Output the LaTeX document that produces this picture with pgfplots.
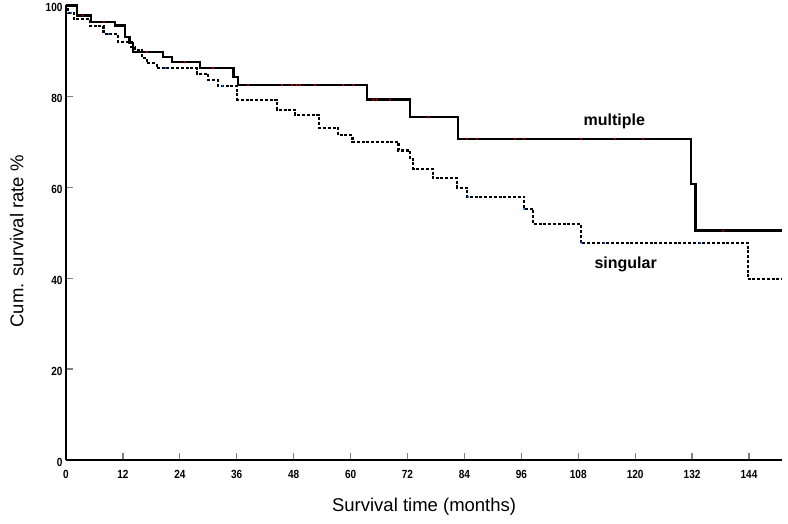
\documentclass[border=0pt]{standalone}
\usepackage{pgfplots}
\pgfplotsset{compat=1.18}
\usepackage{fontspec}
\setmainfont{Liberation Sans}
\newfontfamily\tickfont[FakeStretch=0.85]{Liberation Sans}
\begin{document}
\begin{tikzpicture}
\path[use as bounding box] (0pt,0pt) rectangle (788pt,524pt);
\begin{axis}[
  at={(66pt,64pt)}, anchor=south west,
  scale only axis, width=716.2pt, height=454.5pt,
  xmin=0, xmax=151, ymin=0, ymax=100,
  axis x line*=bottom, axis y line*=left,
  axis line style={-, line width=2.4pt, black},
  xtick={0,12,...,144}, ytick={0,20,...,100},
  xtick align=inside, ytick align=inside,
  major tick length=7pt,
  xtick style={draw=black!50, line width=1.3pt},
  ytick style={draw=black!50, line width=1.3pt},
  /pgf/number format/assume math mode=true,
  ticklabel style={font=\tickfont\bfseries\fontsize{11.8}{12}\selectfont},
  xticklabel style={anchor=base, yshift=-18.3pt},
  yticklabel style={anchor=east, yshift=-2pt},
  xlabel={Survival time (months)},
  ylabel={Cum. survival rate \%},
  label style={font=\fontsize{18.5}{21}\selectfont},
  xlabel style={at={(axis description cs:0.5,-0.1138)}, anchor=base},
  ylabel style={at={(axis description cs:-0.0596,0.481)}, anchor=base},
  clip=false,
]
% multiple (solid)
\addplot[const plot, black, line width=2.2pt] coordinates {
(0,100) (2.4,97.8) (5.2,96.4) (10.3,95.6) (12.4,93.0) (13.4,91.8) (14.2,89.8)
(20.4,88.7) (22.3,87.5) (28.3,86.2) (35.3,84.2) (36.3,82.5) (63.4,79.3)
(72.5,75.4) (82.6,70.7) (131.8,60.7) (132.7,50.5) (151,50.5)
};
% singular (dashed)
\addplot[const plot, black, line width=2.1pt, dash pattern=on 3pt off 1.8pt] coordinates {
(0,100) (0.5,98.4) (1.7,97.0) (5.1,95.5) (7.9,93.7) (11.0,92.0) (13.8,90.9)
(14.6,90.2) (16.0,88.4) (17.0,87.3) (19.1,86.2) (27.6,84.9) (30.0,83.6)
(32.1,82.3) (36.1,79.3) (44.4,77.1) (48.3,75.9) (53.4,73.1) (57.4,71.5)
(60.4,70.0) (70.1,68.1) (72.5,66.2) (73.2,64.1) (77.3,62.0) (82.5,59.9)
(84.6,57.9) (96.6,55.2) (98.5,51.9) (108.5,47.8) (143.7,39.8) (151,39.8)
};
% censor marks
\addplot[only marks, mark=*, mark size=0.8pt, color=red!80!black] coordinates {
(3.5,97.8) (8,96.4) (17,89.8) (25,87.5) (31,86.2) (38.4,82.5) (45.5,82.5)
(47.6,82.5) (48.6,82.5) (49.3,82.5) (52.5,82.5) (58.5,82.5) (60.6,82.5)
(64.8,79.3) (65.5,79.3) (68.3,79.3) (76.4,75.4) (84.5,70.7) (86.6,70.7)
(94.7,70.7) (96.6,70.7) (108.6,70.7) (115.7,70.7) (121.7,70.7) (138.6,50.5)
};
\addplot[only marks, mark=*, mark size=0.8pt, color=blue!60!cyan] coordinates {
(1.1,98.4) (9,93.7) (21,86.2) (33,82.3) (84.8,57.9) (96.6,55.2)
(108.7,47.8) (113.5,47.8) (133.7,47.8)
};
\node[anchor=base, font=\bfseries\fontsize{16}{18}\selectfont] at (axis cs:115.6,73.7) {multiple};
\node[anchor=base, font=\bfseries\fontsize{16}{18}\selectfont] at (axis cs:118.0,42.2) {singular};
\end{axis}
\end{tikzpicture}
\end{document}
